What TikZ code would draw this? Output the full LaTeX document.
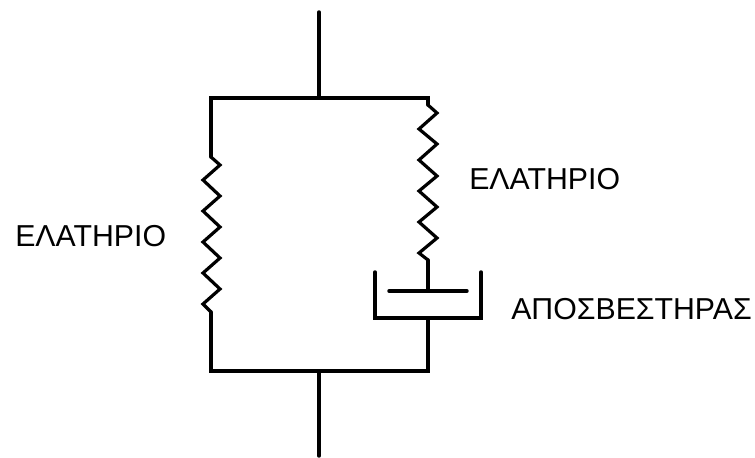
\documentclass[tikz,border=0pt]{standalone}
\usepackage{fontspec}
\setmainfont{Liberation Sans}
\tikzset{
  wire/.style={line width=2.6pt,black,line join=miter,line cap=round},
  coil/.style={line width=2.4pt,black,line join=miter,line cap=butt},
  lab/.style={font=\fontsize{22.7}{25}\selectfont,inner sep=0pt,anchor=base west,text=black}
}
\begin{document}
\begin{tikzpicture}[x=0.75pt,y=-0.75pt]
\useasboundingbox (0,0) rectangle (755,457);
\fill[white] (0,0) rectangle (755,457);
% frame points
\coordinate (topend) at (319,12);
\coordinate (topjoin) at (319,98);
\coordinate (tl) at (211,98);
\coordinate (tr) at (428,98);
\coordinate (bl) at (211,371);
\coordinate (br) at (428,371);
\coordinate (botjoin) at (319,371);
\coordinate (botend) at (319,456);
\coordinate (ls1) at (211,157);
\coordinate (ls2) at (211,312);
\coordinate (rs1) at (428,105);
\coordinate (rs2) at (428,260);
\coordinate (rod) at (428,291);
\coordinate (pistL) at (389,291);
\coordinate (pistR) at (467,291);
\coordinate (cupTL) at (375,272);
\coordinate (cupBL) at (375,318);
\coordinate (cupTR) at (481,272);
\coordinate (cupBR) at (481,318);
\coordinate (cupM) at (428,318);
% connectors
\draw[wire] (topend) -- (topjoin);
\draw[wire] (ls1) -- (tl) -- (tr) -- (rs1);
\draw[wire] (ls2) -- (bl) -- (br) -- (cupM);
\draw[wire] (botjoin) -- (botend);
\draw[wire] (rs2) -- (rod);
\draw[wire] (pistL) -- (pistR);
\draw[wire] (cupTL) -- (cupBL) -- (cupBR) -- (cupTR);
% springs
\draw[coil] (ls1) -- (220,165) -- (203,180) -- (220,196) -- (203,211) -- (220,227) -- (203,242) -- (220,258) -- (203,273) -- (220,289) -- (203,304) -- (ls2);
\draw[coil] (rs1) -- (437,113) -- (419,129) -- (437,144) -- (419,160) -- (437,176) -- (419,191) -- (437,207) -- (419,222) -- (437,238) -- (419,253) -- (rs2);
% labels
\node[lab] (lbl1) at (15,246) {ΕΛΑΤΗΡΙΟ};
\node[lab] (lbl2) at (469,189) {ΕΛΑΤΗΡΙΟ};
\node[lab] (lbl3) at (511,319) {ΑΠΟΣΒΕΣΤΗΡΑΣ};
\end{tikzpicture}
\end{document}
